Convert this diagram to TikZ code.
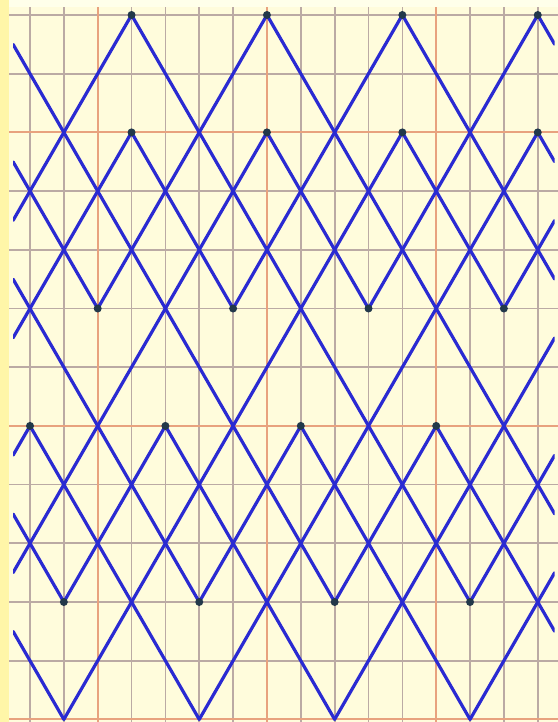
\documentclass[tikz,border=0pt]{standalone}
\usetikzlibrary{calc}
\definecolor{paper}{HTML}{FFFCDC}
\definecolor{paperedge}{HTML}{FFF6A8}
\definecolor{papertop}{HTML}{FFFFEA}
\definecolor{minorgrid}{HTML}{BBAAA4}
\definecolor{majorgrid}{HTML}{E8A27E}
\definecolor{zigblue}{HTML}{2A2AD2}
\definecolor{dotcol}{HTML}{22384A}
\tikzset{
  minorline/.style={draw=minorgrid, line width=1.7pt},
  majorline/.style={draw=majorgrid, line width=2pt},
  zig/.style={draw=zigblue, line width=3.2pt, line cap=round, line join=round},
  bounce/.style={circle, fill=dotcol, inner sep=0pt, minimum size=8pt}
}
\begin{document}
\begin{tikzpicture}[x=33.85pt, y=-58.7pt]
  % canvas
  \fill[paper] (-0.88626,-0.25554) rectangle (15.5982,12.0443);
  \useasboundingbox (-0.88626,-0.25554) rectangle (15.5982,12.0443);
  \fill[paperedge] (-0.88626,-0.25554) rectangle (-0.62,12.0443);
  \fill[papertop] (-0.62,-0.25554) rectangle (15.5982,-0.136);
  % grid
  \foreach \r in {0,1,3,4,5,6,8,9,10,11}
    \draw[minorline] (-0.62,\r) -- (15.5982,\r);
  \foreach \c in {0,1,3,4,5,6,8,9,10,11,13,14,15}
    \draw[minorline] (\c,-0.136) -- (\c,12.0443);
  \foreach \r in {2,7,12}
    \draw[majorline] (-0.62,\r) -- (15.5982,\r);
  \foreach \c in {2,7,12}
    \draw[majorline] (\c,-0.136) -- (\c,12.0443);
  % blue reflected lines
  \begin{scope}
    \clip (-0.5,-0.3) rectangle (15.5,12.1);
    % down-right lines (c - r = const)
    \draw[zig] (-0.5,0.5) -- (9,10);
    \draw[zig] (-0.5,2.5) -- (2,5);
    \draw[zig] (-0.5,4.5) -- (5,10);
    \draw[zig] (-0.5,8.5) -- (1,10);
    \draw[zig] (-0.5,10.5) -- (1,12);
    \draw[zig] (3,0) -- (13,10);
    \draw[zig] (7,0) -- (15.5,8.5);
    \draw[zig] (11,0) -- (15.5,4.5);
    \draw[zig] (15,0) -- (15.5,0.5);
    \draw[zig] (3,2) -- (6,5);
    \draw[zig] (7,2) -- (10,5);
    \draw[zig] (11,2) -- (14,5);
    \draw[zig] (15,2) -- (15.5,2.5);
    \draw[zig] (0,7) -- (5,12);
    \draw[zig] (4,7) -- (9,12);
    \draw[zig] (8,7) -- (13,12);
    \draw[zig] (12,7) -- (15.5,10.5);
    % down-left lines (c + r = const)
    \draw[zig] (3,0) -- (-0.5,3.5);
    \draw[zig] (7,0) -- (2,5);
    \draw[zig] (11,0) -- (6,5);
    \draw[zig] (15,0) -- (10,5);
    \draw[zig] (3,2) -- (-0.5,5.5);
    \draw[zig] (7,2) -- (-0.5,9.5);
    \draw[zig] (11,2) -- (1,12);
    \draw[zig] (15,2) -- (5,12);
    \draw[zig] (15.5,3.5) -- (14,5);
    \draw[zig] (15.5,5.5) -- (9,12);
    \draw[zig] (15.5,7.5) -- (13,10);
    \draw[zig] (15.5,9.5) -- (13,12);
    \draw[zig] (0,7) -- (-0.5,7.5);
    \draw[zig] (4,7) -- (1,10);
    \draw[zig] (8,7) -- (5,10);
    \draw[zig] (12,7) -- (9,10);
  \end{scope}
  % bounce points
  \foreach \c/\r/\n in {3/0/a1,7/0/a2,11/0/a3,15/0/a4,
                        3/2/b1,7/2/b2,11/2/b3,15/2/b4,
                        2/5/c1,6/5/c2,10/5/c3,14/5/c4,
                        0/7/d1,4/7/d2,8/7/d3,12/7/d4,
                        1/10/e1,5/10/e2,9/10/e3,13/10/e4}
    \node[bounce] (\n) at (\c,\r) {};
\end{tikzpicture}
\end{document}
